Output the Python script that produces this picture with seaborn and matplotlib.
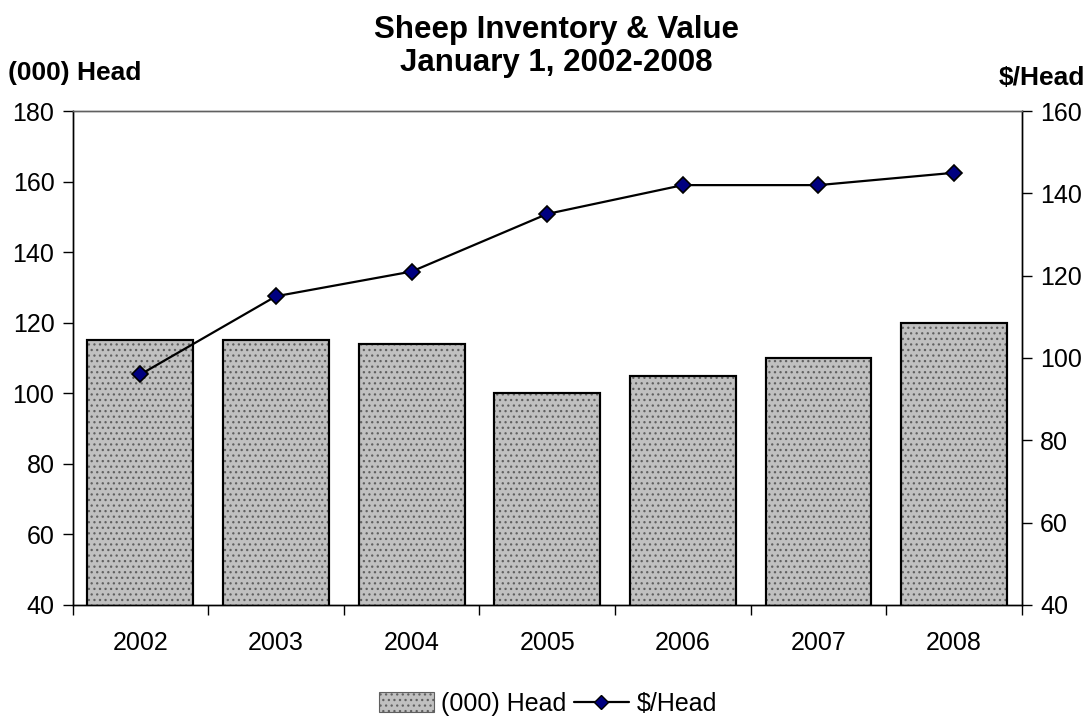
import numpy as np
import matplotlib
matplotlib.use('Agg')
import matplotlib.pyplot as plt
from matplotlib.lines import Line2D
from matplotlib.patches import Patch
import seaborn as sns

years = ['2002', '2003', '2004', '2005', '2006', '2007', '2008']
head = [115, 115, 114, 100, 105, 110, 120]          # (000) head, left axis
value = [96, 115, 121, 135, 142, 142, 145]           # $/head, right axis

sns.set_style('white')
plt.rcParams['font.family'] = ['Liberation Sans', 'DejaVu Sans']
plt.rcParams['text.color'] = 'black'
plt.rcParams['xtick.color'] = 'black'
plt.rcParams['ytick.color'] = 'black'
plt.rcParams['hatch.linewidth'] = 0.9
plt.rcParams['hatch.color'] = '#606060'

fig, ax = plt.subplots(figsize=(10.91, 7.21), dpi=100)
fig.subplots_adjust(left=0.0665, right=0.9367, top=0.846, bottom=0.161)

sns.barplot(x=years, y=head, ax=ax, color='#C0C0C0', width=0.78,
            edgecolor='black', linewidth=1.5, saturation=1)
# dotted texture on top of the grey fill, then redraw the outline
for p in list(ax.patches):
    ax.add_patch(plt.Rectangle(p.get_xy(), p.get_width(), p.get_height(),
                               fill=False, hatch='...', edgecolor='#606060',
                               linewidth=0, zorder=p.get_zorder() + 0.1))
    ax.add_patch(plt.Rectangle(p.get_xy(), p.get_width(), p.get_height(),
                               fill=False, edgecolor='black', linewidth=1.5,
                               zorder=p.get_zorder() + 0.2))

ax.set_ylim(40, 180)
ax.set_yticks(np.arange(40, 181, 20))
ax.set_xlim(-0.5, len(years) - 0.5)
ax.set_xticks(np.arange(-0.5, len(years), 1.0))
ax.set_xticklabels([])
ax.set_xticks(np.arange(len(years)), minor=True)
ax.set_xticklabels(years, minor=True)
ax.tick_params(axis='x', which='major', direction='out', length=7, width=1, color='black', bottom=True)
ax.tick_params(axis='x', which='minor', length=0, labelsize=18, pad=19)
ax.tick_params(axis='y', direction='out', length=7, width=1, color='black', left=True, labelsize=18, pad=6)
ax.set_xlabel('')
ax.set_ylabel('')

ax2 = ax.twinx()
sns.lineplot(x=np.arange(len(years)), y=value, ax=ax2, color='black', linewidth=1.6,
             marker='D', markersize=8, markerfacecolor='#000080', markeredgecolor='black',
             markeredgewidth=1.2)
ax2.set_ylim(40, 160)
ax2.set_yticks(np.arange(40, 161, 20))
ax2.tick_params(axis='y', direction='out', length=7, width=1, color='black', right=True, labelsize=18, pad=6)
ax2.set_ylabel('')

for a in (ax, ax2):
    for s in a.spines.values():
        s.set_color('black')
        s.set_linewidth(1)
ax.spines['top'].set_color('#606060')
ax2.spines['top'].set_color('#606060')

fig.text(0.51, 0.958, 'Sheep Inventory & Value', ha='center', va='center',
         fontsize=22.5, fontweight='bold')
fig.text(0.51, 0.913, 'January 1, 2002-2008', ha='center', va='center',
         fontsize=22.5, fontweight='bold')
fig.text(0.007, 0.899, '(000) Head', ha='left', va='center', fontsize=19, fontweight='bold')
fig.text(0.995, 0.892, '$/Head', ha='right', va='center', fontsize=19, fontweight='bold')

handles = [Patch(facecolor='#C0C0C0', edgecolor='#606060', hatch='...', linewidth=0.8),
           Line2D([0], [0], color='black', linewidth=1.6, marker='D', markersize=7,
                  markerfacecolor='#000080', markeredgecolor='black')]
fig.legend(handles, ['(000) Head', '$/Head'], loc='center', bbox_to_anchor=(0.502, 0.024),
           ncol=2, frameon=False, fontsize=18, handlelength=2.2, handleheight=0.8,
           handletextpad=0.3, columnspacing=0.3, borderpad=0)

fig.savefig('out.png', dpi=100)
